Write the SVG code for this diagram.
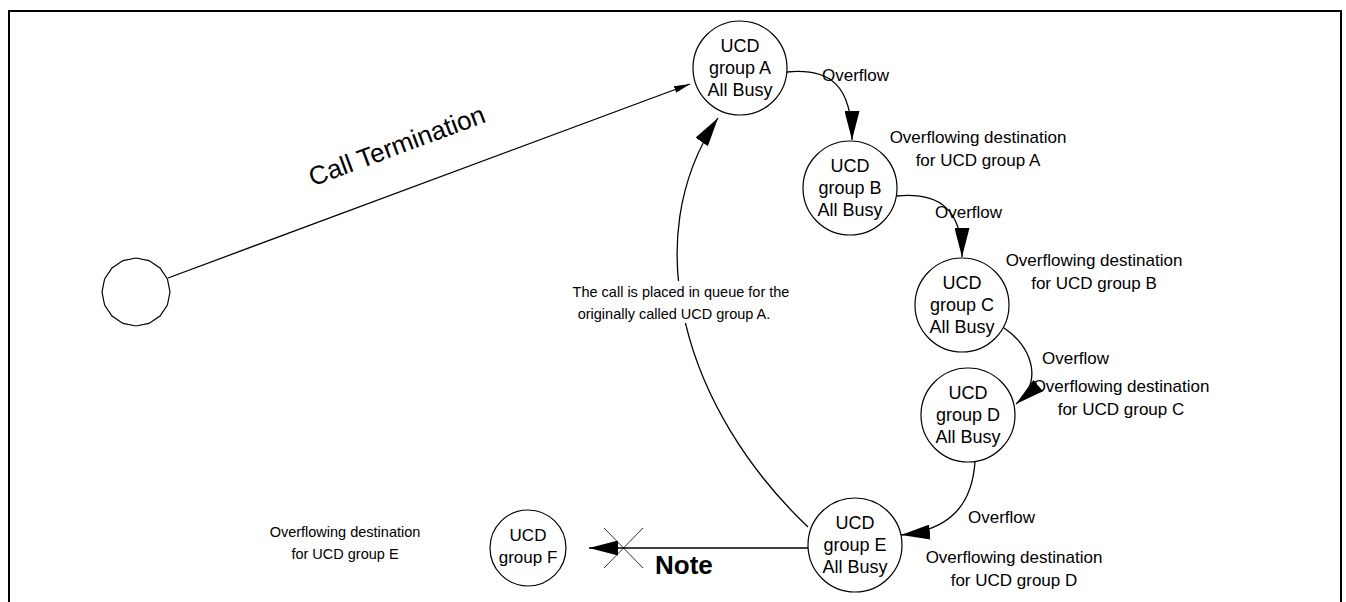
<svg xmlns="http://www.w3.org/2000/svg" width="1346" height="602" viewBox="0 0 1346 602">
<style>
.node{fill:#fff;stroke:#000;stroke-width:1.2}
.t{font-family:"Liberation Sans",Arial,sans-serif;font-size:17px;fill:#000}
.n{font-size:18px}
.s{font-size:14.5px}
.c{text-anchor:middle}
.edge{fill:none;stroke:#000;stroke-width:1.3}
</style>
<defs>
<marker id="big" viewBox="0 0 29 15" refX="29" refY="7.5" markerWidth="29" markerHeight="15" markerUnits="userSpaceOnUse" orient="auto">
<path d="M0 0 L29 7.5 L0 15 Z" fill="#000"/>
</marker>
<marker id="small" viewBox="0 0 16 7" refX="16" refY="3.5" markerWidth="16" markerHeight="7" markerUnits="userSpaceOnUse" orient="auto">
<path d="M0 0 L16 3.5 L0 7 Z" fill="#000"/>
</marker>
</defs>
<rect width="1346" height="602" fill="#fff"/>
<path d="M9 603 V11 H1341 V603" fill="none" stroke="#000" stroke-width="2"/>

<g id="connectors">
<path class="edge" d="M168 278 L690 84" marker-end="url(#small)"/>
<path class="edge" d="M808 527 C685 410 635 240 718 118" marker-end="url(#big)"/>
<path class="edge" d="M787 72 C830 68 852 85 852 140" marker-end="url(#big)"/>
<path class="edge" d="M897 196 C940 192 962 210 962 257" marker-end="url(#big)"/>
<path class="edge" d="M1004 328 C1030 345 1045 380 1016 404" marker-end="url(#big)"/>
<path class="edge" d="M975 462 C972 505 950 530 901 535" marker-end="url(#big)"/>
<path class="edge" d="M808 548 H589" marker-end="url(#big)"/>
<path d="M604 528 L643 568 M604 568 L643 528" stroke="#000" stroke-width="0.8" fill="none"/>
</g>

<g id="labels">
<text class="t c" transform="translate(400,154) rotate(-20.4)" style="font-size:26px">Call Termination</text>
<rect x="574" y="281" width="218" height="42" fill="#fff"/>
<text class="t s c" x="681" y="297">The call is placed in queue for the</text>
<text class="t s c" x="674" y="319">originally called UCD group A.</text>
<text class="t" x="822" y="81">Overflow</text>
<text class="t" x="935" y="218">Overflow</text>
<text class="t" x="1042" y="364">Overflow</text>
<text class="t" x="968" y="523">Overflow</text>
<text class="t c" x="978" y="143">Overflowing destination</text>
<text class="t c" x="978" y="166">for UCD group A</text>
<text class="t c" x="1094" y="266">Overflowing destination</text>
<text class="t c" x="1094" y="289">for UCD group B</text>
<text class="t c" x="1121" y="392">Overflowing destination</text>
<text class="t c" x="1121" y="415">for UCD group C</text>
<text class="t c" x="1014" y="563">Overflowing destination</text>
<text class="t c" x="1014" y="586">for UCD group D</text>
<text class="t s c" x="345" y="537">Overflowing destination</text>
<text class="t s c" x="345" y="559">for UCD group E</text>
<text class="t" x="655" y="574" style="font-size:26px;font-weight:bold">Note</text>
</g>

<g id="start">
<polygon class="node" points="170,292 167.4,305 160,316 149,323.4 136,326 123,323.4 112,316 104.6,305 102,292 104.6,279 112,268 123,260.6 136,258 149,260.6 160,268 167.4,279"/>
</g>
<g id="nodeA">
<circle class="node" cx="740" cy="68" r="47"/>
<text class="t n c" x="740" y="52">UCD</text>
<text class="t n c" x="740" y="74">group A</text>
<text class="t n c" x="740" y="96">All Busy</text>
</g>
<g id="nodeB">
<circle class="node" cx="850" cy="188" r="47"/>
<text class="t n c" x="850" y="172">UCD</text>
<text class="t n c" x="850" y="194">group B</text>
<text class="t n c" x="850" y="216">All Busy</text>
</g>
<g id="nodeC">
<circle class="node" cx="962" cy="305" r="47"/>
<text class="t n c" x="962" y="289">UCD</text>
<text class="t n c" x="962" y="311">group C</text>
<text class="t n c" x="962" y="333">All Busy</text>
</g>
<g id="nodeD">
<circle class="node" cx="968" cy="415" r="47"/>
<text class="t n c" x="968" y="399">UCD</text>
<text class="t n c" x="968" y="421">group D</text>
<text class="t n c" x="968" y="443">All Busy</text>
</g>
<g id="nodeE">
<circle class="node" cx="855" cy="545" r="47"/>
<text class="t n c" x="855" y="529">UCD</text>
<text class="t n c" x="855" y="551">group E</text>
<text class="t n c" x="855" y="573">All Busy</text>
</g>
<g id="nodeF">
<circle class="node" cx="528" cy="548" r="38"/>
<text class="t c" x="528" y="541">UCD</text>
<text class="t c" x="528" y="563">group F</text>
</g>
</svg>
